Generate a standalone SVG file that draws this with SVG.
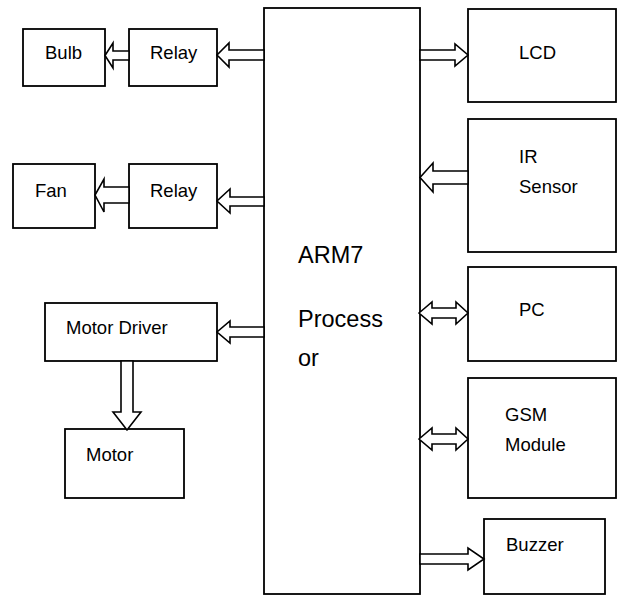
<svg xmlns="http://www.w3.org/2000/svg" width="617" height="595" viewBox="0 0 617 595">
<style>
.box{fill:#fff;stroke:#000;stroke-width:1.8}
.arr{fill:#fff;stroke:#000;stroke-width:1.6;stroke-linejoin:miter}
.t{font-family:"Liberation Sans",Arial,sans-serif;font-size:18.5px;fill:#000}
.big{font-family:"Liberation Sans",Arial,sans-serif;font-size:23.5px;fill:#000}
</style>
<rect width="617" height="595" fill="#fff"/>
<g id="processor">
<rect class="box" x="264" y="8" width="156" height="586"/>
<text class="big" x="298" y="263">ARM7</text>
<text class="big" x="298" y="327">Process</text>
<text class="big" x="298" y="366">or</text>
</g>
<g id="bulb"><rect class="box" x="23" y="29" width="82" height="57"/><text class="t" x="45" y="59">Bulb</text></g>
<g id="relay1"><rect class="box" x="129" y="29" width="88" height="57"/><text class="t" x="150" y="59">Relay</text></g>
<g id="fan"><rect class="box" x="13" y="164" width="82" height="64"/><text class="t" x="35" y="197">Fan</text></g>
<g id="relay2"><rect class="box" x="129" y="164" width="88" height="64"/><text class="t" x="150" y="197">Relay</text></g>
<g id="motordriver"><rect class="box" x="45" y="303" width="172" height="58"/><text class="t" x="66" y="334">Motor Driver</text></g>
<g id="motor"><rect class="box" x="65" y="429" width="119" height="69"/><text class="t" x="86" y="461">Motor</text></g>
<g id="lcd"><rect class="box" x="468" y="9" width="148" height="93"/><text class="t" x="519" y="59">LCD</text></g>
<g id="ir"><rect class="box" x="468" y="119" width="148" height="133"/><text class="t" x="519" y="163">IR</text><text class="t" x="519" y="193">Sensor</text></g>
<g id="pc"><rect class="box" x="468" y="267" width="148" height="94"/><text class="t" x="519" y="316">PC</text></g>
<g id="gsm"><rect class="box" x="468" y="378" width="148" height="120"/><text class="t" x="505" y="421">GSM</text><text class="t" x="505" y="451">Module</text></g>
<g id="buzzer"><rect class="box" x="484" y="519" width="121" height="75"/><text class="t" x="506" y="551">Buzzer</text></g>
<g id="connectors">
<polygon class="arr" points="129,51 113,51 113,43 105,55.5 113,68 113,60 129,60"/>
<polygon class="arr" points="264,50 229,50 229,43 217,55 229,67 229,60 264,60"/>
<polygon class="arr" points="129,187 104,187 104,179 95,195 104,212 104,203 129,203"/>
<polygon class="arr" points="264,197 230,197 230,189 217,201 230,213 230,206 264,206"/>
<polygon class="arr" points="264,327 230,327 230,321 217,332 230,343 230,337 264,337"/>
<polygon class="arr" points="121,361 121,412 113,412 127,430 141,412 133,412 133,361"/>
<polygon class="arr" points="420,50 455,50 455,44 468,55 455,66 455,60 420,60"/>
<polygon class="arr" points="468,171 433,171 433,163 420,177.5 433,192 433,184 468,184"/>
<polygon class="arr" points="419,313 432,302 432,308 456,308 456,302 468,313 456,324 456,318 432,318 432,324"/>
<polygon class="arr" points="419,439 432,428 432,434 456,434 456,428 468,439 456,450 456,444 432,444 432,450"/>
<polygon class="arr" points="420,554 468,554 468,548 484,559 468,570 468,564 420,564"/>
</g>
</svg>
